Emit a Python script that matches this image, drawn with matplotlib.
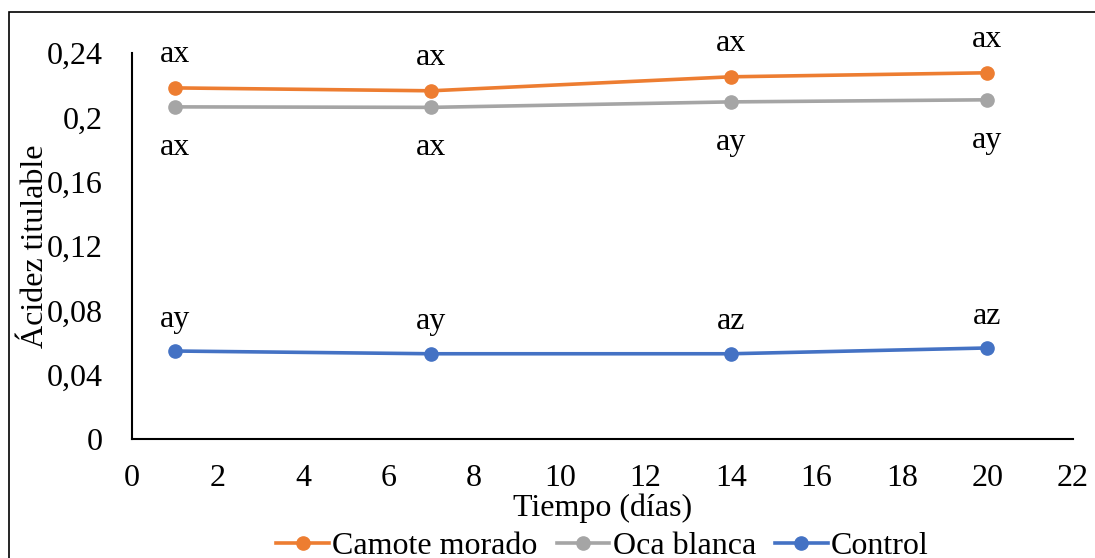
import matplotlib
matplotlib.use("Agg")
import matplotlib.pyplot as plt
from matplotlib.patches import Rectangle

# datos
tiempo = [1, 7, 14, 20]
camote = [0.2183, 0.2165, 0.2252, 0.2277]
oca = [0.2065, 0.2062, 0.2096, 0.2109]
control = [0.0547, 0.0530, 0.0530, 0.0566]
letras_camote = ["ax", "ax", "ax", "ax"]
letras_oca = ["ax", "ax", "ay", "ay"]
letras_control = ["ay", "ay", "az", "az"]
yticks = [0, 0.04, 0.08, 0.12, 0.16, 0.2, 0.24]
ytick_labels = ["0", "0,04", "0,08", "0,12", "0,16", "0,2", "0,24"]

plt.rcParams["font.family"] = ["Liberation Serif", "DejaVu Serif"]
fs = 23

fig = plt.figure(figsize=(10.95, 5.58), dpi=100)
ax = fig.add_axes([132/1095, 1-439/558, (1073-132)/1095, (439-53)/558])

# borde del gráfico
fig.patches.append(Rectangle((9/1095, -0.1), 1.1, 1.1-12/558, transform=fig.transFigure,
                             fill=False, edgecolor="black", linewidth=1.2))

ax.plot(tiempo, camote, color="#ED7D31", lw=2.6, marker="o", ms=9.5, label="Camote morado")
ax.plot(tiempo, oca, color="#A5A5A5", lw=2.6, marker="o", ms=9.5, label="Oca blanca")
ax.plot(tiempo, control, color="#4472C4", lw=2.6, marker="o", ms=9.5, label="Control")

for x, y, t in zip(tiempo, camote, letras_camote):
    ax.annotate(t, (x, y), xytext=(0, 24), textcoords="offset points", ha="center", va="center", fontsize=fs)
for x, y, t in zip(tiempo, oca, letras_oca):
    ax.annotate(t, (x, y), xytext=(0, -29), textcoords="offset points", ha="center", va="center", fontsize=fs)
for x, y, t in zip(tiempo, control, letras_control):
    ax.annotate(t, (x, y), xytext=(0, 23), textcoords="offset points", ha="center", va="center", fontsize=fs)

ax.set_xlim(0, 22)
ax.set_ylim(0, 0.24)
ax.set_xticks(range(0, 23, 2))
ax.set_yticks(yticks)
ax.set_yticklabels(ytick_labels)
ax.tick_params(length=0, labelsize=fs)
ax.tick_params(axis="y", pad=21)
ax.tick_params(axis="x", pad=18)
for s in ["top", "right"]:
    ax.spines[s].set_visible(False)
ax.spines["left"].set_linewidth(1.5)
ax.spines["bottom"].set_linewidth(1.5)

ax.set_xlabel("Tiempo (días)", fontsize=fs, va="center")
ax.xaxis.set_label_coords(0.5, -0.18)
ax.set_ylabel("Ácidez titulable", fontsize=fs)
ax.yaxis.set_label_coords(-0.087, 0.5)

ax.legend(loc="center", bbox_to_anchor=(0.5, -0.278), ncol=3, frameon=False,
          fontsize=fs, handlelength=1.65, handletextpad=0.1, columnspacing=0.6,
          borderpad=0, borderaxespad=0)

fig.savefig("out.png", dpi=100)
